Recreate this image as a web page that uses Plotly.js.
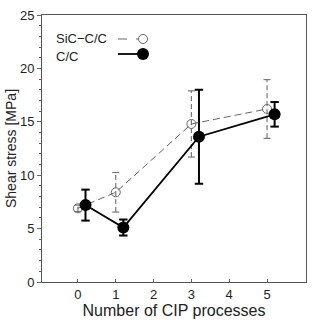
<!DOCTYPE html>
<html><head><meta charset="utf-8">
<script src="https://cdn.plot.ly/plotly-3.0.1.min.js"></script>
<style>body{margin:0;background:#fff}#c{width:318px;height:323px}</style>
</head><body><div id="c"></div>
<script>
const sicX = [0, 1, 3, 5];
const sicY = [6.9, 8.4, 14.8, 16.2];
const sicErr = [0.3, 1.85, 3.1, 2.75];
const ccX = [0.2, 1.2, 3.2, 5.2];
const ccY = [7.2, 5.1, 13.6, 15.7];
const ccErr = [1.45, 0.75, 4.4, 1.15];
const xTicks = [0, 1, 2, 3, 4, 5];
const yTicks = [0, 5, 10, 15, 20, 25];

function whiskers(xs, ys, es) {
  const wx = [], wy = [];
  xs.forEach((x, i) => { wx.push(x, x, null); wy.push(ys[i] - es[i], ys[i] + es[i], null); });
  return {x: wx, y: wy};
}
function caps(xs, ys, es) {
  const cx = [], cy = [];
  xs.forEach((x, i) => { cx.push(x, x); cy.push(ys[i] - es[i], ys[i] + es[i]); });
  return {x: cx, y: cy};
}
const sw = whiskers(sicX, sicY, sicErr), sc = caps(sicX, sicY, sicErr);
const cw = whiskers(ccX, ccY, ccErr), cc = caps(ccX, ccY, ccErr);

const traces = [
  {x: sw.x, y: sw.y, mode: 'lines', line: {color: '#777', width: 1.2, dash: '5px,3px'}, hoverinfo: 'skip', showlegend: false},
  {x: sc.x, y: sc.y, mode: 'markers', marker: {symbol: 'line-ew-open', size: 5, color: '#777', line: {color: '#777', width: 1.2}}, showlegend: false},
  {x: sicX, y: sicY, mode: 'lines+markers', name: 'SiC−C/C',
   line: {color: '#666', width: 1, dash: '7px,4px'},
   marker: {symbol: 'circle-open', size: 9, color: '#666', line: {width: 1, color: '#666'}}, showlegend: false},
  {x: cw.x, y: cw.y, mode: 'lines', line: {color: '#000', width: 2}, hoverinfo: 'skip', showlegend: false},
  {x: cc.x, y: cc.y, mode: 'markers', marker: {symbol: 'line-ew-open', size: 6, color: '#000', line: {color: '#000', width: 2}}, showlegend: false},
  {x: ccX, y: ccY, mode: 'lines+markers', name: 'C/C',
   line: {color: '#000', width: 1.8},
   marker: {symbol: 'circle', size: 12, color: '#000'}, showlegend: false}
];

const F = 'Liberation Sans, Arial, sans-serif';
const layout = {
  width: 318, height: 323,
  margin: {l: 42, r: 12, t: 15, b: 41},
  paper_bgcolor: '#fff', plot_bgcolor: '#fff',
  font: {family: F, size: 13, color: '#222'},
  showlegend: false,
  xaxis: {
    range: [-0.95, 6.03], tickvals: xTicks, ticktext: xTicks.map(String),
    ticks: 'inside', ticklen: 3, tickcolor: '#666', showgrid: false, zeroline: false,
    showline: true, linecolor: '#555', linewidth: 1, mirror: true,
    tickfont: {family: F, size: 13, color: '#222'},
    title: {text: 'Number of CIP processes', font: {family: F, size: 16, color: '#222'}, standoff: 3}
  },
  yaxis: {
    range: [0, 25], tickvals: yTicks, ticktext: yTicks.map(String),
    ticks: 'outside', ticklen: 4, tickcolor: '#666', showgrid: false, zeroline: false,
    minor: {dtick: 1, ticks: 'outside', ticklen: 2, tickcolor: '#666', showgrid: false},
    showline: true, linecolor: '#555', linewidth: 1, mirror: true,
    tickfont: {family: F, size: 13, color: '#222'},
    title: {text: 'Shear stress [MPa]', font: {family: F, size: 14, color: '#222'}, standoff: 0}
  },
  annotations: [
    {xref: 'paper', yref: 'paper', x: (54 - 42) / 264, y: (282 - 38) / 267, xanchor: 'left', yanchor: 'middle',
     text: 'SiC−C/C', showarrow: false, font: {family: F, size: 13, color: '#222'}},
    {xref: 'paper', yref: 'paper', x: (54 - 42) / 264, y: (282 - 56) / 267, xanchor: 'left', yanchor: 'middle',
     text: 'C/C', showarrow: false, font: {family: F, size: 13, color: '#222'}}
  ],
  shapes: [
    {type: 'line', xref: 'paper', yref: 'paper', x0: (118 - 42) / 264, x1: (138 - 42) / 264,
     y0: (282 - 39) / 267, y1: (282 - 39) / 267, line: {color: '#666', width: 1, dash: 'dash'}},
    {type: 'circle', xref: 'paper', yref: 'paper', x0: (138.5 - 42) / 264, x1: (147.5 - 42) / 264,
     y0: (282 - 43.5) / 267, y1: (282 - 34.5) / 267, line: {color: '#666', width: 1}},
    {type: 'line', xref: 'paper', yref: 'paper', x0: (118 - 42) / 264, x1: (142 - 42) / 264,
     y0: (282 - 54) / 267, y1: (282 - 54) / 267, line: {color: '#000', width: 1.8}},
    {type: 'circle', xref: 'paper', yref: 'paper', x0: (137 - 42) / 264, x1: (149 - 42) / 264,
     y0: (282 - 60) / 267, y1: (282 - 48) / 267, fillcolor: '#000', line: {color: '#000', width: 0}}
  ]
};
Plotly.newPlot('c', traces, layout, {staticPlot: true, displayModeBar: false});
</script></body></html>
